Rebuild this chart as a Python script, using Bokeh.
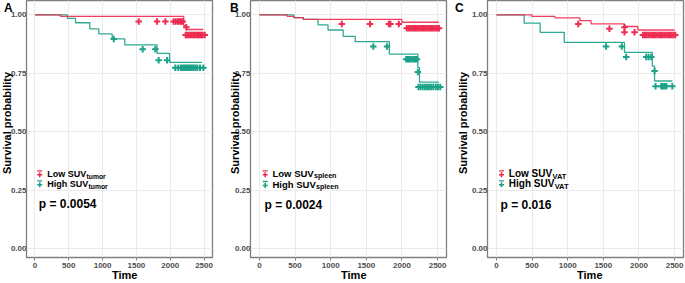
from bokeh.plotting import figure
from bokeh.layouts import row
from bokeh.models import Label, FixedTicker, Range1d, Div
from bokeh.embed import file_html
from bokeh.resources import INLINE

# ---------------- data ----------------
x_ticks = [0, 500, 1000, 1500, 2000, 2500]
y_ticks = [0.0, 0.25, 0.5, 0.75, 1.0]
y_tick_labels = ["0.00", "0.25", "0.50", "0.75", "1.00"]

panel_letters = ["A", "B", "C"]
group_names = ["Low SUV", "High SUV"]
subscripts = ["tumor", "spleen", "VAT"]
p_values = ["p = 0.0054", "p = 0.0024", "p = 0.016"]
x_title = "Time"
y_title = "Survival probability"

# Panel A (tumor)
lowA_t = [0, 380, 2200, 2240, 2490]
lowA_s = [1.0, 0.993, 0.954, 0.937, 0.937]
lowA_ct = [1534, 1805, 1928, 2050, 2080, 2110, 2135, 2160, 2185, 2238,
           2228, 2250, 2275, 2300, 2320, 2345, 2365, 2390, 2410, 2430, 2455, 2480, 2510]
lowA_cs = [0.971, 0.971, 0.971, 0.971, 0.971, 0.971, 0.971, 0.971, 0.971, 0.947,
           0.914, 0.914, 0.914, 0.914, 0.914, 0.914, 0.914, 0.914, 0.914, 0.914, 0.914, 0.914, 0.914]
highA_t = [0, 478, 600, 811, 944, 1142, 1328, 1805, 1990, 2469]
highA_s = [1.0, 0.985, 0.966, 0.940, 0.918, 0.897, 0.871, 0.835, 0.797, 0.797]
highA_ct = [1165, 1593, 1780, 1829, 1953, 2075, 2120, 2160, 2190, 2215, 2240, 2265,
            2290, 2315, 2340, 2370, 2400, 2440, 2490]
highA_cs = [0.897, 0.853, 0.853, 0.806, 0.806, 0.774, 0.774, 0.774, 0.774, 0.774, 0.774, 0.774,
            0.774, 0.774, 0.774, 0.774, 0.774, 0.774, 0.774]

# Panel B (spleen)
lowB_t = [0, 390, 484, 616, 1998, 2520]
lowB_s = [1.0, 0.993, 0.988, 0.980, 0.968, 0.968]
lowB_ct = [1156, 1551, 1815, 1838, 1956, 2068, 2095, 2120, 2145, 2170, 2195, 2220, 2245,
           2270, 2295, 2320, 2345, 2370, 2395, 2420, 2445, 2470, 2495, 2520]
lowB_cs = [0.961, 0.961, 0.961, 0.961, 0.961, 0.942, 0.942, 0.942, 0.942, 0.942, 0.942, 0.942, 0.942,
           0.942, 0.942, 0.942, 0.942, 0.942, 0.942, 0.942, 0.942, 0.942, 0.942, 0.942]
highB_t = [0, 484, 616, 822, 963, 1175, 1344, 1823, 2223, 2246, 2520]
highB_s = [1.0, 0.988, 0.980, 0.957, 0.935, 0.908, 0.885, 0.832, 0.774, 0.712, 0.712]
highB_ct = [1598, 1791, 2059, 2085, 2110, 2135, 2160, 2185, 2210, 2223, 2232, 2260, 2290,
            2320, 2350, 2380, 2410, 2440, 2475, 2505, 2538]
highB_cs = [0.865, 0.865, 0.810, 0.810, 0.810, 0.810, 0.810, 0.810, 0.810, 0.756, 0.691, 0.691, 0.691,
            0.691, 0.691, 0.691, 0.691, 0.691, 0.691, 0.691, 0.691]

# Panel C (VAT)
lowC_t = [0, 497, 821, 1173, 1328, 1797, 1985, 2501]
lowC_s = [1.0, 0.993, 0.987, 0.975, 0.961, 0.950, 0.935, 0.935]
lowC_ct = [1149, 1586, 1797, 1797, 1938, 2056, 2085, 2110, 2135, 2160, 2185, 2210, 2235,
           2260, 2285, 2310, 2335, 2360, 2385, 2410, 2435, 2460, 2485, 2510]
lowC_cs = [0.961, 0.940, 0.947, 0.925, 0.925, 0.914, 0.914, 0.914, 0.914, 0.914, 0.914, 0.914, 0.914,
           0.914, 0.914, 0.914, 0.914, 0.914, 0.914, 0.914, 0.914, 0.914, 0.914, 0.914]
highC_t = [0, 389, 614, 952, 1797, 2187, 2219, 2468]
highC_s = [1.0, 0.964, 0.925, 0.882, 0.839, 0.781, 0.717, 0.717]
highC_ct = [1539, 1760, 1821, 2102, 2135, 2172, 2219, 2233, 2313, 2335, 2360, 2384, 2468]
highC_cs = [0.865, 0.865, 0.820, 0.820, 0.820, 0.820, 0.760, 0.695, 0.695, 0.695, 0.695, 0.695, 0.695]

# ---------------- style ----------------
RED = "#EE2B50"
TEAL = "#1AA187"
FONT = "Liberation Sans"
X0, X1 = -125, 2625
Y0, Y1 = -0.037, 1.061
H = 283
FRAME_H = 257
TICK_COL = "#4D4D4D"

# per-panel layout (page pixels): figure x0/width, frame left/width, legend font,
# letter x, y-title centre x, x-title centre x, legend/p positions rel. to frame
layouts = [
    dict(x0=0, width=228, left=26, fw=186, lf=9.0, letter=4, ylab=7, time=124.7,
         sym=13.2, txt=20.7, px=12.3, rows=(83.7, 73.7), py=53.7),
    dict(x0=228, width=227, left=22, fw=196, lf=9.5, letter=230, ylab=235, time=353.8,
         sym=14.7, txt=22.0, px=14.0, rows=(83.7, 73.0), py=52.7),
    dict(x0=455, width=230, left=32, fw=196, lf=10.0, letter=455, ylab=463, time=589.8,
         sym=14.0, txt=21.3, px=13.0, rows=(83.7, 73.7), py=52.7),
]
main_em = [4.334, 4.556]


def make_panel(i, curves):
    L = layouts[i]
    p = figure(width=L["width"], height=H,
               x_range=Range1d(X0, X1), y_range=Range1d(Y0, Y1),
               min_border_left=L["left"], min_border_right=L["width"] - L["left"] - L["fw"],
               min_border_top=0, min_border_bottom=H - FRAME_H,
               output_backend="svg", toolbar_location=None,
               background_fill_color="white", border_fill_color="white")
    p.xaxis.ticker = FixedTicker(ticks=x_ticks)
    p.yaxis.ticker = FixedTicker(ticks=y_ticks)
    p.yaxis.major_label_overrides = {t: s for t, s in zip(y_ticks, y_tick_labels)}
    p.axis.axis_line_color = None
    p.axis.minor_tick_line_color = None
    p.axis.major_tick_in = 0
    p.axis.major_tick_line_color = "#7F7F7F"
    p.xaxis.major_tick_out = 3
    p.xaxis.major_label_standoff = 2
    p.yaxis.major_tick_out = 0
    p.yaxis.major_label_standoff = 0
    p.axis.major_label_text_font = FONT
    p.axis.major_label_text_font_size = "8px"
    p.axis.major_label_text_font_style = "bold"
    p.axis.major_label_text_color = TICK_COL
    p.grid.grid_line_color = "#EBEBEB"
    p.grid.grid_line_width = 1
    p.outline_line_color = "#7F7F7F"
    p.outline_line_width = 1.3

    (lt, ls, lct, lcs), (ht, hs, hct, hcs) = curves
    for (t, s, ct, cs), col in (((ht, hs, hct, hcs), TEAL), ((lt, ls, lct, lcs), RED)):
        p.step(x=t, y=s, mode="after", line_color=col, line_width=1.3, line_alpha=0.9)
        p.scatter(x=ct, y=cs, marker="cross", size=6.5, line_width=2, line_color=col)

    def fx(px):
        return X0 + px / L["fw"] * (X1 - X0)

    def fy(py):
        return Y0 + py / FRAME_H * (Y1 - Y0)

    for row_y, col in zip(L["rows"], (RED, TEAL)):
        p.segment(x0=[fx(L["sym"] - 2.5)], y0=[fy(row_y + 3)], x1=[fx(L["sym"] + 2.5)], y1=[fy(row_y + 3)],
                  line_color=col, line_width=1.3)
        p.scatter(x=[fx(L["sym"])], y=[fy(row_y - 1)], marker="cross", size=5, line_width=1.6, line_color=col)

    def lab(text, x, y, size):
        p.add_layout(Label(x=x, y=y, x_units="screen", y_units="screen", text=text,
                           text_font=FONT, text_font_size=f"{size}px", text_font_style="bold",
                           text_color="black", text_align="left", text_baseline="middle"))

    for k, (row_y, name) in enumerate(zip(L["rows"], group_names)):
        lab(name, L["txt"], row_y, L["lf"])
        lab(subscripts[i], L["txt"] + main_em[k] * L["lf"] + 0.3, row_y - 2.5, round(L["lf"] * 0.75, 1))
    lab(p_values[i], L["px"], L["py"], 12)
    return p


def text_div(text, left, top, w, h, size, extra=None):
    st = {"position": "absolute", "left": f"{left}px", "top": f"{top}px",
          "font-family": FONT, "font-weight": "bold", "font-size": f"{size}px",
          "line-height": f"{h}px", "color": "black", "white-space": "nowrap",
          "text-align": "center", "overflow": "visible"}
    if extra:
        st.update(extra)
    return Div(text=text, width=w, height=h, margin=0, styles=st)


pA = make_panel(0, ((lowA_t, lowA_s, lowA_ct, lowA_cs), (highA_t, highA_s, highA_ct, highA_cs)))
pB = make_panel(1, ((lowB_t, lowB_s, lowB_ct, lowB_cs), (highB_t, highB_s, highB_ct, highB_cs)))
pC = make_panel(2, ((lowC_t, lowC_s, lowC_ct, lowC_cs), (highC_t, highC_s, highC_ct, highC_cs)))

divs = []
for i, L in enumerate(layouts):
    divs.append(text_div(panel_letters[i], L["letter"], 2, 12, 12, 12, {"text-align": "left"}))
    divs.append(text_div(x_title, L["time"] - 30, 268, 60, 14, 11))
    divs.append(text_div(y_title, L["ylab"] - 70, 123 - 7, 140, 14, 11,
                         {"transform": "rotate(-90deg)", "transform-origin": "50% 50%"}))

layout = row(pA, pB, pC, *divs, spacing=0)
open("out.html", "w").write(file_html(layout, INLINE))
